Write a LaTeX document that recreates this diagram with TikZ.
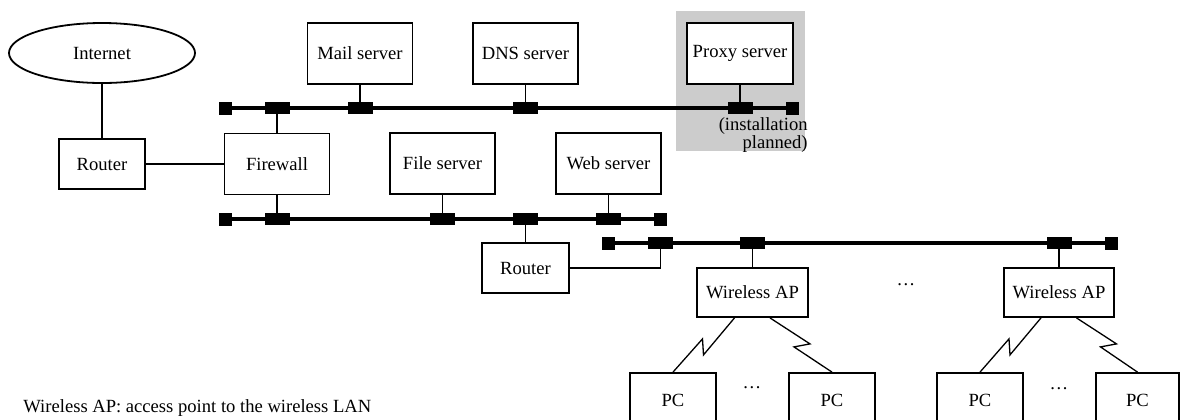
\documentclass[tikz,border=0pt]{standalone}
\usepackage{fontspec}
\setmainfont{Liberation Serif}
\usetikzlibrary{shapes.geometric}

\newlength{\du}
\setlength{\du}{0.5pt}

\tikzset{
	devbox/.style={draw, line width=0.9pt, fill=white, inner sep=0pt, minimum width=105\du, minimum height=61\du, font=\fontsize{9.3}{8}\selectfont},
	rtbox/.style={devbox, minimum width=86\du, minimum height=50\du},
	apbox/.style={devbox, minimum width=111\du, minimum height=49\du},
	pcbox/.style={devbox, minimum width=86\du, minimum height=54\du},
	netcloud/.style={devbox, ellipse, minimum width=186\du, minimum height=60\du},
	tap/.style={fill=black, inner sep=0pt, minimum width=25\du, minimum height=12\du},
	busend/.style={fill=black, inner sep=0pt, minimum size=13\du},
	bus/.style={line width=1.6pt},
	wire/.style={line width=0.65pt},
	radio/.style={line width=0.65pt, line join=miter},
	note/.style={inner sep=0pt, font=\fontsize{9.3}{8}\selectfont}
}

\begin{document}
\begin{tikzpicture}
	\pgftransformxscale{1.000000}
	\pgftransformyscale{-1.000000}
	\useasboundingbox (0\du,0\du) rectangle (1180\du,419\du);
	% planned part
	\fill[gray!40] (676\du,11\du) rectangle (805\du,151\du);
	% devices
	\node[netcloud] (inet) at (102\du,53\du) {Internet};
	\node[rtbox] (rt1) at (102\du,164\du) {Router};
	\node[devbox] (fw) at (277\du,164\du) {Firewall};
	\node[devbox] (mail) at (360\du,53.5\du) {Mail server};
	\node[devbox] (dns) at (525.5\du,53.5\du) {DNS server};
	\node[devbox, minimum width=106\du] (proxy) at (740\du,53.5\du) {Proxy server};
	\node[devbox] (file) at (442.5\du,163.5\du) {File server};
	\node[devbox] (web) at (608.5\du,163.5\du) {Web server};
	\node[rtbox, minimum width=87\du] (rt2) at (525.5\du,268\du) {Router};
	\node[apbox] (ap1) at (752.5\du,292.5\du) {Wireless AP};
	\node[apbox, minimum width=110\du] (ap2) at (1059\du,292.5\du) {Wireless AP};
	\node[pcbox] (pc1) at (673\du,400\du) {PC};
	\node[pcbox] (pc2) at (832\du,400\du) {PC};
	\node[pcbox] (pc3) at (980\du,400\du) {PC};
	\node[pcbox, minimum width=83\du] (pc4) at (1137.5\du,400\du) {PC};
	% upper segment
	\node[busend] (tA) at (225\du,108\du) {};
	\node[busend] (tB) at (792.5\du,108\du) {};
	\node[tap] (tFw) at (277\du,108\du) {};
	\node[tap] (tMail) at (360\du,108\du) {};
	\node[tap] (tDns) at (525.5\du,108\du) {};
	\node[tap] (tProxy) at (740\du,108\du) {};
	\draw[bus] (tA.center) -- (tB.center);
	% lower segment
	\node[busend] (bA) at (225.5\du,219\du) {};
	\node[busend] (bB) at (660.5\du,219\du) {};
	\node[tap] (bFw) at (277\du,219\du) {};
	\node[tap] (bFile) at (442.5\du,219\du) {};
	\node[tap] (bRt) at (525.5\du,219\du) {};
	\node[tap] (bWeb) at (608.5\du,219\du) {};
	\draw[bus] (bA.center) -- (bB.center);
	% wireless segment
	\node[busend] (wA) at (608.5\du,243\du) {};
	\node[busend] (wB) at (1111.5\du,243\du) {};
	\node[tap] (wRt) at (660.5\du,243\du) {};
	\node[tap] (wAp1) at (752.5\du,243\du) {};
	\node[tap] (wAp2) at (1059\du,243\du) {};
	\draw[bus] (wA.center) -- (wB.center);
	% cables
	\draw[wire] (inet.south) -- (rt1.north);
	\draw[wire] (rt1.east) -- (fw.west);
	\draw[wire] (fw.north) -- (tFw.south);
	\draw[wire] (fw.south) -- (bFw.north);
	\draw[wire] (mail.south) -- (tMail.north);
	\draw[wire] (dns.south) -- (tDns.north);
	\draw[wire] (proxy.south) -- (tProxy.north);
	\draw[wire] (file.south) -- (bFile.north);
	\draw[wire] (web.south) -- (bWeb.north);
	\draw[wire] (bRt.south) -- (rt2.north);
	\draw[wire] (rt2.east) -| (wRt.south);
	\draw[wire] (wAp1.south) -- (ap1.north);
	\draw[wire] (wAp2.south) -- (ap2.north);
	% radio links
	\draw[radio] ([xshift=-18\du]ap1.south) -- ++(-31\du,37\du) -- ++(-1\du,-16\du) -- (pc1.north);
	\draw[radio] ([xshift=17.5\du]ap1.south) -- ++(40\du,26\du) -- ++(-16\du,3\du) -- (pc2.north);
	\draw[radio] ([xshift=-18\du]ap2.south) -- ++(-31\du,37\du) -- ++(-1\du,-16\du) -- (pc3.north);
	\draw[radio] ([xshift=17.5\du]ap2.south) -- ++(40\du,26\du) -- ++(-16\du,3\du) -- (pc4.north);
	% texts
	\node[note, align=right, anchor=east] (plan) at (808\du,135\du) {(installation\\planned)};
	\node[note] (dotsAp) at (906\du,285\du) {\ldots};
	\node[note] (dotsPcA) at (752\du,388\du) {\ldots};
	\node[note] (dotsPcB) at (1059\du,389\du) {\ldots};
	\node[note, anchor=west] (legend) at (23\du,408\du) {Wireless AP: access point to the wireless LAN};
\end{tikzpicture}
\end{document}
